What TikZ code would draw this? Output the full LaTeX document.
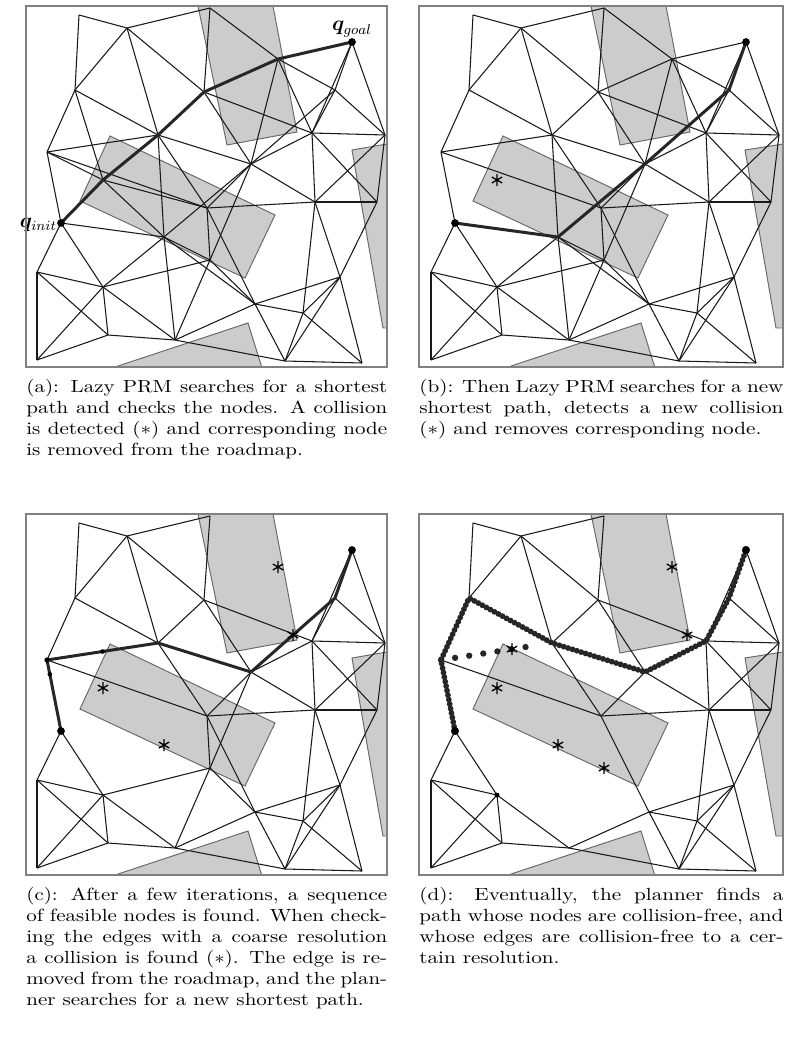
\documentclass[tikz,border=0pt]{standalone}
\usepackage{bm}
\usetikzlibrary{calc}
\definecolor{obgray}{RGB}{204,204,204}
\definecolor{obline}{RGB}{105,105,105}
\def\nodelist{1/53/9,2/101/22,3/184/2,4/252/53,5/326/36,6/49/84,7/178/86,8/132/129,9/21/146,10/77/174,11/35/217,12/225/158,14/286/127,15/309/84,16/359/129,17/181/202,18/289/196,19/351/196,21/138/231,22/184/254,23/11/266,24/77/281,25/314/271,26/229/298,27/277/307,28/82/329,29/149/334,30/11/354,31/259/355,32/336/357}
\def\edgesCommon{1/2,1/6,2/3,2/6,2/8,2/7,3/7,7/8,7/14,7/12,6/8,6/9,9/11,8/12,12/14,12/17,12/18,14/15,14/16,14/18,14/19,15/16,5/15,5/16,5/14,16/19,16/18,18/19,17/18,8/17,9/17,11/23,11/24,23/24,23/28,23/30,24/28,24/29,24/30,28/29,28/30,29/26,29/31,26/31,26/27,26/25,25/27,25/31,25/32,27/31,27/32,31/32,18/25,18/27,19/25,17/26}
\def\edgesFour{3/4,4/5,4/7,4/12,4/15,4/14}
\def\edgesTen{6/10,8/10,9/10,10/11,10/21,10/17}
\def\edgesTwentyOne{11/21,8/21,12/21,21/22,21/24,21/29,21/26}
\def\edgesTwentyTwo{17/22,22/24,22/29,22/26,12/22}
\def\edgesLate{12/15,8/9}
\newcommand\placenodes[1]{\foreach \n/\u/\v in \nodelist {\coordinate (#1\n) at (\u,\v);}}
\newcommand\drawedges[2]{\foreach \p/\q in #2 {\draw[edge] (#1\p) -- (#1\q);}}
\newcommand\myobst[1]{%
  \begin{scope}
    \clip (0,0) rectangle (#1,361);
    \draw[obst] (172,0) -- (247,0) -- (271,126) -- (201,139) -- cycle;
    \draw[obst] (84,130) -- (249,209) -- (219,272) -- (54,195) -- cycle;
    \draw[obst] (326,144) -- (#1,138) -- (#1,322) -- (357,322) -- cycle;
    \draw[obst] (86,362) -- (222,317) -- (236,362) -- cycle;
  \end{scope}}
\newlength\capw
\setlength\capw{172pt}
\newcommand\capline[1]{\hbox to \capw{#1}}
\newcommand\lastline[1]{\hbox to \capw{#1\hfil}}
\newcommand\captext[2]{\scalebox{#1}[1]{\parbox[t]{\capw}{\hbadness=10000 \hfuzz=20pt #2}}}
\tikzset{collstar/.pic={\draw[line width=0.75pt] (0,-6) -- (0,6) (-5.2,-3) -- (5.2,3) (-5.2,3) -- (5.2,-3);}}
\begin{document}
\begin{tikzpicture}[x=0.5682pt,y=-0.5682pt,
  edge/.style={line width=0.6pt, black!90},
  pathline/.style={line width=1.7pt, black!85, line cap=round, line join=round},
  obst/.style={fill=obgray, draw=obline, line width=0.55pt},
  framebox/.style={draw=gray, line width=0.6pt},
  caption/.style={anchor=base west, inner sep=0pt}]
\useasboundingbox (0,0) rectangle (789,1037);
\fill[white] (0,0) rectangle (789,1037);
% ---------------- panel a
\begin{scope}[shift={(26,6)}]
  \myobst{361}
  \placenodes{a}
  \drawedges{a}{\edgesCommon}
  \drawedges{a}{\edgesFour}
  \drawedges{a}{\edgesTen}
  \drawedges{a}{\edgesTwentyOne}
  \drawedges{a}{\edgesTwentyTwo}
  \drawedges{a}{\edgesLate}
  \draw[pathline] (a11) -- (a10) -- (a8) -- (a7) -- (a4) -- (a5);
  \fill (a11) circle (2.2pt);
  \fill (a5) circle (2.2pt);
  \node[anchor=south, inner sep=1pt] (lgoal) at ($(a5)+(0,-3)$) {\large$\bm{q}_{goal}$};
  \node[anchor=east, inner sep=1pt] (linit) at ($(a11)+(-2,2)$) {\large$\bm{q}_{init}$};
  \draw[framebox] (0,0) rectangle (361,361);
\end{scope}
% ---------------- panel b
\begin{scope}[shift={(420,6)}]
  \begin{scope}[shift={(-1,0)}]\myobst{364}\end{scope}
  \placenodes{b}
  \drawedges{b}{\edgesCommon}
  \drawedges{b}{\edgesFour}
  \drawedges{b}{\edgesTwentyOne}
  \drawedges{b}{\edgesTwentyTwo}
  \drawedges{b}{\edgesLate}
  \draw[pathline] (b11) -- (b21) -- (b12) -- (b15) -- (b5);
  \fill (b11) circle (2.2pt);
  \fill (b5) circle (2.2pt);
  \pic at (b10) {collstar};
  \draw[framebox] (-1,0) rectangle (363,361);
\end{scope}
% ---------------- panel c
\begin{scope}[shift={(26,514)}]
  \myobst{361}
  \placenodes{c}
  \drawedges{c}{\edgesCommon}
  \drawedges{c}{\edgesTwentyTwo}
  \drawedges{c}{\edgesLate}
  \draw[pathline] (c11) -- (c9) -- (c8) -- (c12) -- (c15) -- (c5);
  \fill (c11) circle (2.2pt);
  \fill (c5) circle (2.2pt);
  \fill (c9) circle (1.5pt);
  \fill ($(c9)!0.5!(c8)$) circle (1.3pt);
  \fill ($(c9)!0.2!(c11)$) circle (1.3pt);
  \coordinate (chit) at ($(c12)!0.5!(c15)$);
  \pic at (c4) {collstar};
  \pic at (c10) {collstar};
  \pic at (c21) {collstar};
  \pic at (chit) {collstar};
  \draw[framebox] (0,0) rectangle (361,361);
\end{scope}
% ---------------- panel d
\begin{scope}[shift={(420,514)}]
  \begin{scope}[shift={(-1,0)}]\myobst{364}\end{scope}
  \placenodes{d}
  \drawedges{d}{\edgesCommon}
  \draw[line width=1.6pt, black!85, line join=round] (d11) -- (d9) -- (d6) -- (d8) -- (d12) -- (d14) -- (d15) -- (d5);
  \draw[line width=3.3pt, black!85, line cap=round, dash pattern=on 0pt off 2.6pt] (d11) -- (d9) -- (d6) -- (d8) -- (d12) -- (d14) -- (d15) -- (d5);
  \coordinate (dend) at ($(d9)!0.78!(d8)$);
  \draw[line width=3.6pt, black!85, line cap=round, dash pattern=on 0pt off 8.1pt] (d9) -- (dend);
  \fill (d11) circle (2.3pt);
  \fill (d5) circle (2.3pt);
  \fill (d24) circle (1.4pt);
  \coordinate (dhit) at ($(d12)!0.5!(d15)$);
  \coordinate (dhit2) at ($(d9)!0.64!(d8)$);
  \pic at (d4) {collstar};
  \pic at (d10) {collstar};
  \pic at (d21) {collstar};
  \pic at (d22) {collstar};
  \pic at (dhit) {collstar};
  \pic at (dhit2) {collstar};
  \draw[framebox] (-1,0) rectangle (363,361);
\end{scope}
% ---------------- captions
\node[caption] (capa) at (26,392) {\captext{1.192}{%
  \capline{(a): Lazy PRM searches for a shortest}
  \capline{path and checks the nodes. A collision}
  \capline{is detected $(*)$ and corresponding node}
  \lastline{is removed from the roadmap.}}};
\node[caption] (capb) at (419,392) {\captext{1.203}{%
  \capline{(b): Then Lazy PRM searches for a new}
  \capline{shortest path, detects a new collision}
  \lastline{$(*)$ and removes corresponding node.}}};
\node[caption] (capc) at (26,900) {\captext{1.192}{%
  \capline{(c): After a few iterations, a sequence}
  \capline{of feasible nodes is found. When check-}
  \capline{ing the edges with a coarse resolution}
  \capline{a collision is found $(*)$. The edge is re-}
  \capline{moved from the roadmap, and the plan-}
  \lastline{ner searches for a new shortest path.}}};
\node[caption] (capd) at (419,900) {\captext{1.203}{%
  \capline{(d): Eventually, the planner finds a}
  \capline{path whose nodes are collision-free, and}
  \capline{whose edges are collision-free to a cer-}
  \lastline{tain resolution.}}};
\end{tikzpicture}
\end{document}
